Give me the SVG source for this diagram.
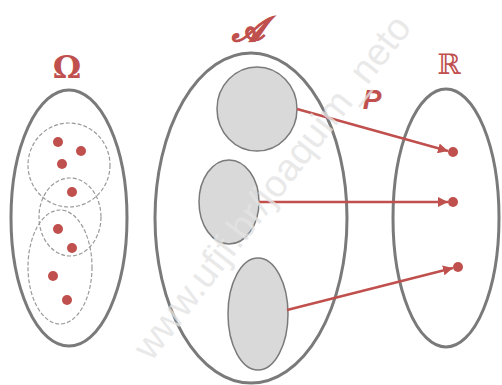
<svg xmlns="http://www.w3.org/2000/svg" width="502" height="385" viewBox="0 0 502 385">
<style>
.set{fill:none;stroke:#7a7a7a;stroke-width:3}
.sub{fill:none;stroke:#9a9a9a;stroke-width:1.2;stroke-dasharray:4 2}
.ev{fill:#d9d9d9;stroke:#7a7a7a;stroke-width:1.5}
.dot{fill:#c0504d}
.lbl{fill:#c0504d}
.arr{stroke:#c0504d;stroke-width:2.5;fill:none;marker-end:url(#ah)}
.wm{font-family:'Liberation Sans',Arial,sans-serif;font-size:38px;fill:#e4e4e4;fill-opacity:0.8}
</style>
<defs>
<marker id="ah" viewBox="0 0 10 10" refX="10" refY="5" markerWidth="4" markerHeight="4" orient="auto" markerUnits="strokeWidth">
<path d="M0,0 L10,5 L0,10 z" fill="#c0504d"/>
</marker>
</defs>
<rect width="502" height="385" fill="#ffffff"/>
<g id="omega">
<ellipse class="set" cx="69" cy="218" rx="58" ry="128"/>
<ellipse class="sub" cx="69" cy="165" rx="41" ry="42"/>
<ellipse class="sub" cx="70" cy="217" rx="31" ry="39"/>
<ellipse class="sub" cx="60" cy="267" rx="32" ry="57"/>
<circle class="dot" cx="58" cy="142" r="5"/>
<circle class="dot" cx="81" cy="151" r="5"/>
<circle class="dot" cx="62" cy="164" r="5"/>
<circle class="dot" cx="72" cy="192" r="5"/>
<circle class="dot" cx="58" cy="229" r="5"/>
<circle class="dot" cx="72" cy="248" r="5"/>
<circle class="dot" cx="53" cy="276" r="5"/>
<circle class="dot" cx="67" cy="300" r="5"/>
<text class="lbl" x="67" y="78" text-anchor="middle" font-family="'DejaVu Serif',serif" font-weight="bold" font-size="32">Ω</text>
</g>
<g id="sigma">
<ellipse class="set" cx="251" cy="218" rx="96" ry="165"/>
<ellipse class="ev" cx="257" cy="109" rx="40" ry="42"/>
<ellipse class="ev" cx="229" cy="202" rx="30" ry="42"/>
<ellipse class="ev" cx="258" cy="314" rx="30" ry="56"/>
<text class="lbl" x="248" y="41" text-anchor="middle" font-family="'DejaVu Serif',serif" font-style="italic" font-weight="bold" font-size="34" stroke="#c0504d" stroke-width="1">𝒜</text>
</g>
<g id="reals">
<ellipse class="set" cx="446" cy="218" rx="53" ry="129"/>
<circle class="dot" cx="453" cy="152" r="5"/>
<circle class="dot" cx="453" cy="202" r="5"/>
<circle class="dot" cx="458" cy="267" r="5"/>
<text class="lbl" x="449" y="74" text-anchor="middle" font-family="'DejaVu Serif',serif" font-size="28">ℝ</text>
</g>
<g id="connectors">
<line class="arr" x1="297" y1="109" x2="448" y2="151"/>
<line class="arr" x1="259" y1="202" x2="448" y2="202"/>
<line class="arr" x1="287" y1="310" x2="453" y2="268"/>
<text class="lbl" x="372" y="109" text-anchor="middle" font-family="'Liberation Sans',Arial,sans-serif" font-style="italic" font-weight="bold" font-size="28">P</text>
</g>
<text class="wm" x="282" y="195" text-anchor="middle" transform="rotate(-52 282 195)">www.ufjf.br/joaquim_neto</text>
</svg>
